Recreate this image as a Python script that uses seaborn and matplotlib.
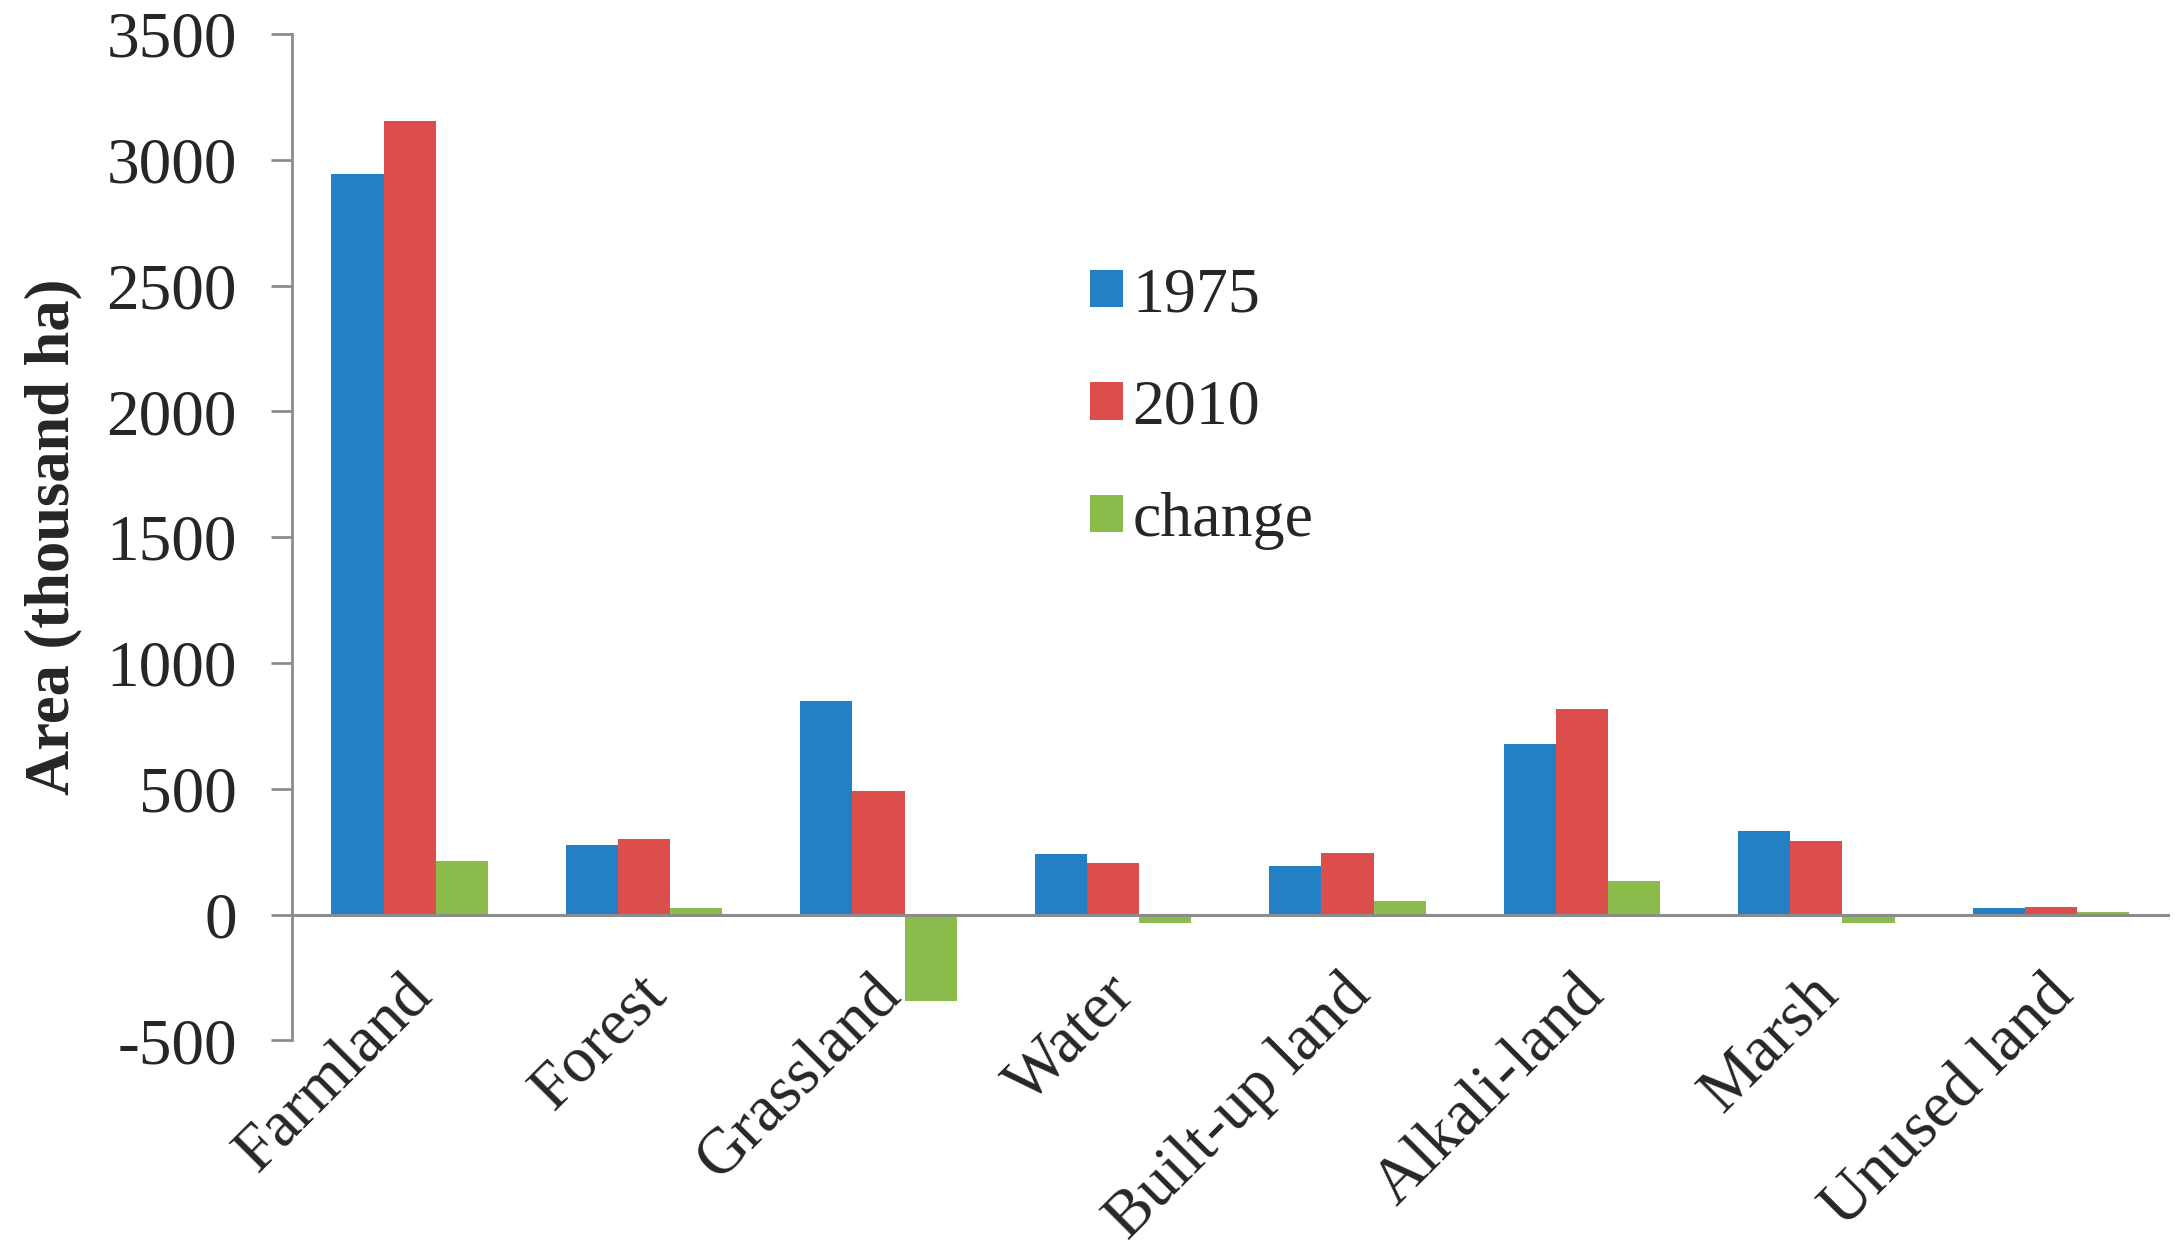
import pandas as pd
import numpy as np
import seaborn as sns
import matplotlib.pyplot as plt
import matplotlib.transforms as mtransforms

# land use area, thousand ha
categorias = ["Farmland", "Forest", "Grassland", "Water", "Built-up land",
              "Alkali-land", "Marsh", "Unused land"]
area_1975 = [2943, 277, 848, 242, 193, 679, 331, 26]
area_2010 = [3155, 301, 491, 205, 243, 816, 293, 30]
mudanca = [214, 27, -345, -32, 52, 132, -34, 12]
series = ["1975", "2010", "change"]
cores = ["#2380c4", "#dc4e4b", "#8bbb4a"]

df = pd.DataFrame({
    "categoria": categorias * 3,
    "serie": np.repeat(series, len(categorias)),
    "valor": area_1975 + area_2010 + mudanca,
})

sns.set_style("white")
plt.rcParams['font.family'] = ['Liberation Serif', 'DejaVu Serif']
plt.rcParams['axes.unicode_minus'] = False

fig = plt.figure(figsize=(21.82, 12.55), dpi=100)
ax = fig.add_axes([0.134, 0.171, 0.8596, 0.802])

sns.barplot(data=df, x="categoria", y="valor", hue="serie", palette=cores,
            width=0.667, saturation=1, errorbar=None, ax=ax, linewidth=0)

ax.set_xlim(-0.5, len(categorias) - 0.5)
ax.set_ylim(-500, 3500)
ax.set_yticks(np.arange(-500, 3501, 500))

ax.spines['top'].set_visible(False)
ax.spines['right'].set_visible(False)
ax.spines['left'].set_color('#8c8c8c')
ax.spines['left'].set_linewidth(2)
ax.spines['bottom'].set_position(('data', 0))
ax.spines['bottom'].set_color('#8c8c8c')
ax.spines['bottom'].set_linewidth(2.2)

ax.tick_params(axis='y', length=15, width=2, color='#8c8c8c', pad=25,
               labelsize=47, left=True)
ax.tick_params(axis='x', length=0, pad=36, labelsize=47)
plt.setp(ax.get_xticklabels(), rotation=45, ha='right', rotation_mode='anchor')
desloc = mtransforms.ScaledTranslation(-0.08, 0, fig.dpi_scale_trans)
for lab in ax.get_xticklabels():
    lab.set_transform(lab.get_transform() + desloc)

ax.set_xlabel("")
ax.set_ylabel("Area (thousand ha)", fontsize=45, fontweight='bold')
ax.yaxis.set_label_coords(-0.112, 0.5)

ax.legend(frameon=False, loc='upper left', bbox_to_anchor=(0.425, 0.768),
          fontsize=46, handlelength=0.52, handleheight=0.52,
          handletextpad=0.15, labelspacing=0.85, borderpad=0, borderaxespad=0)

fig.savefig("out.png", dpi=100)
